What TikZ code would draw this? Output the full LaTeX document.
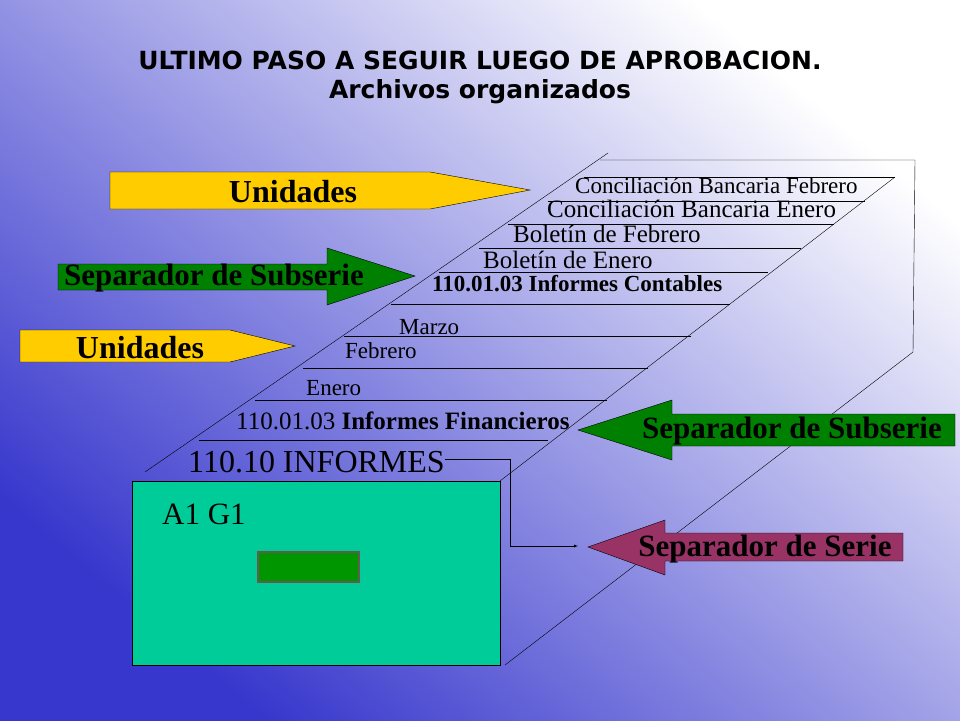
\documentclass[tikz,border=0pt]{standalone}
\usepackage{fontspec}
\setmainfont{Liberation Serif}
\setsansfont{DejaVu Sans}
\definecolor{gold}{RGB}{255,204,0}
\definecolor{darkgreen}{RGB}{0,128,0}
\definecolor{plum}{RGB}{153,51,102}
\definecolor{sea}{RGB}{0,204,153}
\definecolor{bgblue}{RGB}{55,55,205}
\definecolor{btngreen}{RGB}{0,150,0}
\definecolor{btnedge}{RGB}{100,90,80}

\begin{document}
\begin{tikzpicture}[x=1pt, y=-1pt, thin]
  \tikzset{
    shelf/.style={draw=black},
    lbl/.style={anchor=base west, inner sep=0pt, font=\fontsize{#1}{#1}\selectfont},
    boldlbl/.style={anchor=base west, inner sep=0pt, font=\fontsize{#1}{#1}\selectfont\bfseries},
    arrowtext/.style={font=\fontsize{#1}{#1}\selectfont\bfseries, inner sep=0pt}
  }
  \useasboundingbox (0,0) rectangle (960,720);
  \shade[shading=axis, top color=white, bottom color=bgblue, shading angle=-40]
    (0,0) rectangle (960,720);

  % title
  \node[font=\sffamily\bfseries\fontsize{25}{25}\selectfont] (title) at (480,60) {ULTIMO PASO A SEGUIR LUEGO DE APROBACION.};
  \node[font=\sffamily\bfseries\fontsize{25}{25}\selectfont] (subtitle) at (480,92) {Archivos organizados};

  % box in depth
  \draw (145,472) -- (608,153);
  \draw (600,160) -- (915,160) -- (913,352) -- (505,665);
  \draw (895,177) -- (500,481);
  \draw[shelf] (584,177) -- (895,177);
  \draw[shelf] (548,201) -- (865,201);
  \draw[shelf] (508,224) -- (834,224);
  \draw[shelf] (479,248) -- (801,248);
  \draw[shelf] (439,272) -- (768,272);
  \draw[shelf] (391,304) -- (730,304);
  \draw[shelf] (344,336) -- (691,336);
  \draw[shelf] (303,368) -- (648,368);
  \draw[shelf] (255,400) -- (607,400);
  \draw[shelf] (199,440) -- (548,440);

  \node[lbl=23] (concfeb) at (575,193) {Conciliación Bancaria Febrero};
  \node[lbl=25] (concene) at (547,217) {Conciliación Bancaria Enero};
  \node[lbl=25] (boletfeb) at (513,242) {Boletín de Febrero};
  \node[lbl=25] (boletene) at (483,268) {Boletín de Enero};
  \node[boldlbl=23] (contables) at (432,291) {110.01.03 Informes Contables};
  \node[lbl=23] (marzo) at (399,334) {Marzo};
  \node[lbl=23] (febrero) at (345,358) {Febrero};
  \node[lbl=23] (enero) at (306,395) {Enero};
  \node[lbl=25] (financieros) at (236,429) {110.01.03 \textbf{Informes Financieros}};
  \node[lbl=32] (informes) at (188,472) {110.10 INFORMES};

  % front
  \draw[fill=sea] (132,481) rectangle (500,665);
  \node[lbl=31] (a1g1) at (162,524) {A1 G1};
  \draw[btnedge, line width=2pt, fill=btngreen] (258,552) rectangle (359,582);

  % connector
  \coordinate (bend) at (510,546);
  \draw[-latex] (informes.east |- 0,459) -- (510,459) -- (bend) -- (578,546);

  % arrows
  \draw[fill=gold] (110,172) -- (430,172) -- (530,190) -- (430,209) -- (110,209) -- cycle;
  \node[arrowtext=32] (unid1) at (293,192) {Unidades};
  \draw[fill=darkgreen] (58,264) -- (327,264) -- (327,248) -- (415,276) -- (327,305) -- (327,290) -- (58,290) -- cycle;
  \node[arrowtext=31] (subs1) at (214,278) {Separador de Subserie};
  \draw[fill=gold] (20,330) -- (230,330) -- (295,346) -- (230,362) -- (20,362) -- cycle;
  \node[arrowtext=32] (unid2) at (140,348) {Unidades};
  \draw[fill=darkgreen] (955,414) -- (672,414) -- (672,400) -- (578,430) -- (672,460) -- (672,446) -- (955,446) -- cycle;
  \node[arrowtext=31] (subs2) at (792,431) {Separador de Subserie};
  \draw[fill=plum] (903,533) -- (665,533) -- (665,520) -- (588,547) -- (665,575) -- (665,561) -- (903,561) -- cycle;
  \node[arrowtext=31] (serie) at (765,549) {Separador de Serie};
\end{tikzpicture}
\end{document}
